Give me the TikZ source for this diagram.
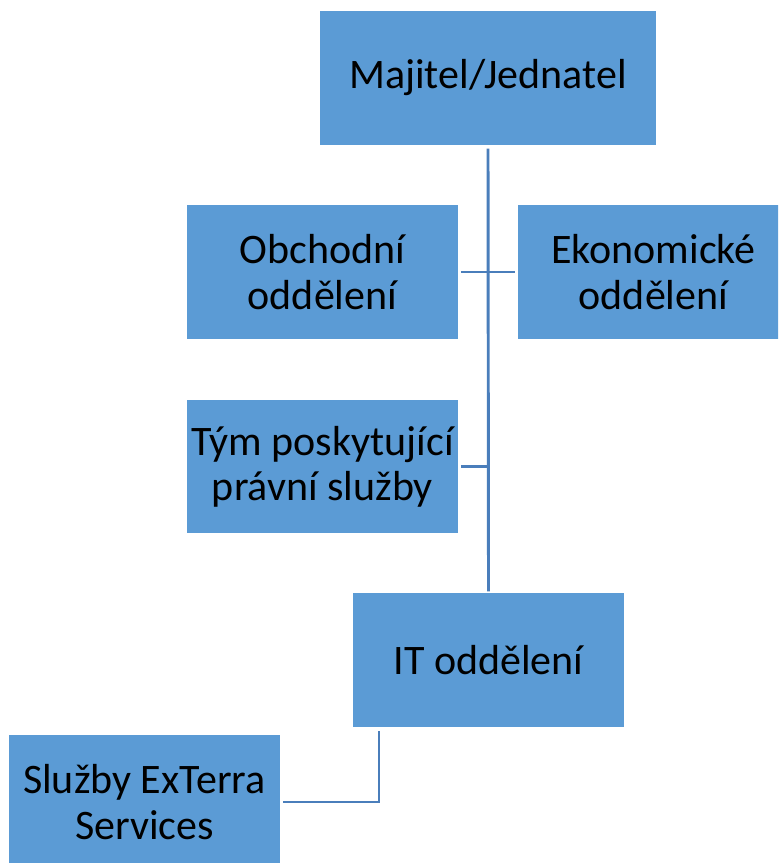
\documentclass[tikz,border=0pt]{standalone}
\usepackage{fontspec}
\setmainfont{Carlito}
\definecolor{boxblue}{HTML}{5B9BD5}
\definecolor{linkblue}{HTML}{4A7EBB}
\begin{document}
\begin{tikzpicture}[x=0.75pt,y=-0.75pt,
  unit/.style={rectangle, fill=boxblue, draw=none, inner sep=0pt,
    text=black, align=center,
    font=\fontsize{31.5}{34}\selectfont},
  link/.style={draw=linkblue, line width=2.2pt}]
\clip (0,0) rectangle (778,863);
\useasboundingbox (0,0) rectangle (778,863);

% organisational units
\node[unit, minimum width=336*0.75pt, minimum height=134*0.75pt] (owner) at (488,78) {Majitel/Jednatel};
\node[unit, minimum width=271*0.75pt, minimum height=134*0.75pt] (sales) at (322.5,272) {Obchodní\\oddělení};
\node[unit, minimum width=271*0.75pt, minimum height=134*0.75pt] (econ) at (653.5,272) {Ekonomické\\oddělení};
\node[unit, minimum width=271*0.75pt, minimum height=133*0.75pt] (legal) at (322.5,466.5) {Tým poskytující\\právní služby};
\node[unit, minimum width=271*0.75pt, minimum height=134*0.75pt] (it) at (488.5,660) {IT oddělení};
\node[unit, minimum width=271*0.75pt, minimum height=134*0.75pt] (ext) at (144.5,802) {Služby ExTerra\\Services};

% reporting lines
\coordinate (itdrop) at (379,727);
\draw[link] ([yshift=-2.5pt]owner.south) -- ([yshift=1pt]it.north);
\draw[link] ([xshift=2pt]sales.east) -- ([xshift=-2pt]econ.west);
\draw[link] ([xshift=2pt]legal.east) -- (legal.east -| owner.south);
\draw[link] ([yshift=-3pt]itdrop) |- ([xshift=2pt]ext.east);
\end{tikzpicture}
\end{document}
